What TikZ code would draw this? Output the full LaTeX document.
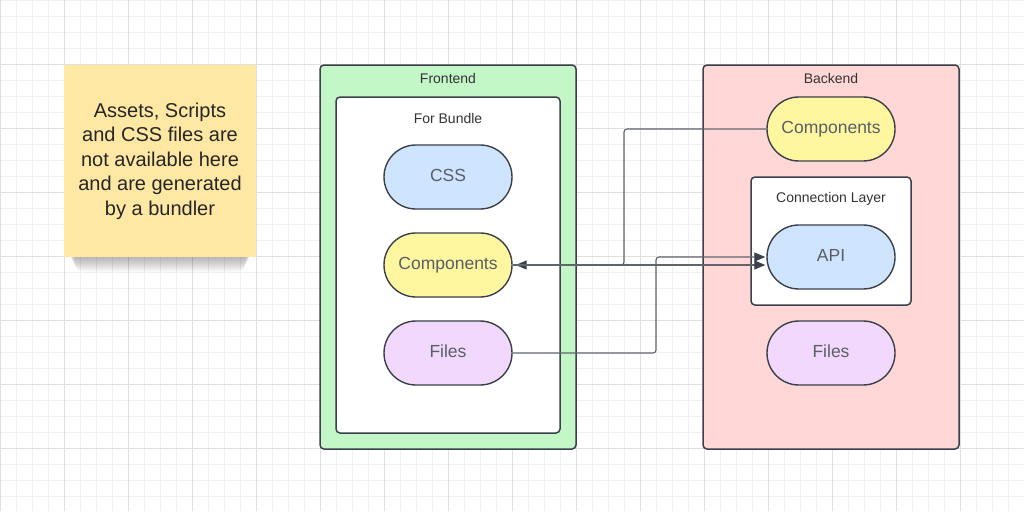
\documentclass[tikz,border=0pt]{standalone}
\usepackage{fontspec}
\setmainfont{Liberation Sans}
\usetikzlibrary{arrows.meta}
\definecolor{gridminor}{HTML}{F0F0F0}
\definecolor{gridmajor}{HTML}{E0E0E0}
\definecolor{edge}{HTML}{3A414A}
\definecolor{wire}{HTML}{60656C}
\definecolor{pilltext}{HTML}{5A5F66}
\definecolor{boxtext}{HTML}{333333}
\definecolor{frontfill}{HTML}{C3F7C8}
\definecolor{backfill}{HTML}{FFD7D7}
\definecolor{bluefill}{HTML}{CFE4FF}
\definecolor{yellowfill}{HTML}{FFF6A0}
\definecolor{purplefill}{HTML}{F2D8FC}
\definecolor{notefill}{HTML}{FFE8A3}
\begin{document}
\begin{tikzpicture}[x=1pt,y=-1pt,
  container/.style={draw=edge,line width=1.5pt,rounded corners=4pt,inner sep=0pt},
  pill/.style={draw=edge,line width=1.4pt,rounded corners=31.9pt,inner sep=0pt,
    minimum width=128pt,minimum height=64pt,text height=12.6pt,text depth=4.4pt,
    text=pilltext,font=\fontsize{17.5}{20}\selectfont},
  boxlabel/.style={text=boxtext,font=\fontsize{14}{16}\selectfont,inner sep=0pt},
  wireline/.style={draw=wire,line width=1.1pt,rounded corners=3pt},
  tip/.style={-{Triangle[length=11pt,width=9pt,color=edge]}}
]
\useasboundingbox (0,0) rectangle (1024,511);
\fill[white] (0,0) rectangle (1024,511);
% background grid
\foreach \i in {0,16,...,1024} \draw[gridminor,line width=0.8pt] (\i,0) -- (\i,511);
\foreach \j in {0,16,...,511} \draw[gridminor,line width=0.8pt] (0,\j) -- (1024,\j);
\foreach \i in {0,64,...,1024} \draw[gridmajor,line width=1pt] (\i,0) -- (\i,511);
\foreach \j in {0,64,...,511} \draw[gridmajor,line width=1pt] (0,\j) -- (1024,\j);

% sticky note with soft shadow
\foreach \k in {0,1,...,14}
  \fill[black,opacity=0.018,rounded corners=8pt] (68+\k*0.5,244+\k*0.3) rectangle (252-\k*0.5,258+\k);
\node[fill=notefill,minimum width=192pt,minimum height=192pt,inner sep=0pt,
  text=black!85,align=center,font=\fontsize{20}{24.5}\selectfont] (note) at (160,161)
  {Assets, Scripts\\and CSS files are\\not available here\\and are generated\\by a bundler};

% frontend
\node[container,fill=frontfill,minimum width=256pt,minimum height=384pt] (front) at (448,257) {};
\node[boxlabel] (frontlbl) at (448,78) {Frontend};
\node[container,fill=white,minimum width=224pt,minimum height=336pt] (bundle) at (448,265) {};
\node[boxlabel] (bundlelbl) at (448,118) {For Bundle};
\node[pill,fill=bluefill] (css) at (448,177) {CSS};
\node[pill,fill=yellowfill] (fcomp) at (448,265) {Components};
\node[pill,fill=purplefill] (ffiles) at (448,353) {Files};

% backend
\node[container,fill=backfill,minimum width=256pt,minimum height=384pt] (back) at (831,257) {};
\node[boxlabel] (backlbl) at (831,78) {Backend};
\node[pill,fill=yellowfill] (bcomp) at (831,129) {Components};
\node[container,fill=white,minimum width=160pt,minimum height=128pt] (conn) at (831,241) {};
\node[boxlabel] (connlbl) at (831,199) {Connection Layer};
\node[pill,fill=bluefill] (api) at (831,257) {API};
\node[pill,fill=purplefill] (bfiles) at (831,353) {Files};

% connector bend points
\coordinate (bendA) at (624,200);
\coordinate (bendB) at (656,300);

% connectors
\draw[wireline,tip] (bcomp.west) -- (bcomp.west -| bendA) -- (bendA |- fcomp.east) -- ([xshift=3pt]fcomp.east);
\draw[wireline,tip] (fcomp.east) -- ([yshift=-8pt,xshift=-1pt]api.west);
\draw[wireline,tip] (ffiles.east) -- (ffiles.east -| bendB) -- (bendB |- api.west) -- ([xshift=-1pt]api.west);
\end{tikzpicture}
\end{document}
